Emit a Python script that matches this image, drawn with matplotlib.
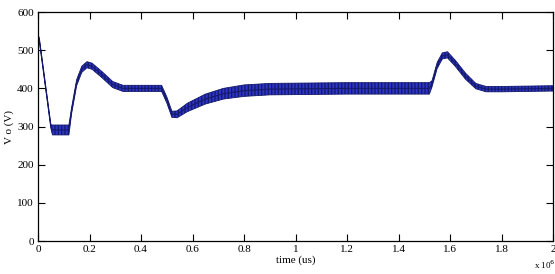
import matplotlib
matplotlib.use('Agg')
import matplotlib.pyplot as plt

# envelope of the output voltage (time in us, volts)
t_us = [0.0, 0.005, 0.05, 0.056, 0.12, 0.13, 0.15, 0.17, 0.19, 0.21, 0.25, 0.29, 0.33,
        0.48, 0.50, 0.52, 0.54, 0.58, 0.65, 0.72, 0.8, 0.9, 1.2,
        1.52, 1.53, 1.55, 1.57, 1.59, 1.62, 1.66, 1.70, 1.74, 1.8, 2.0]
v_mid = [540, 528, 300, 291, 291, 340, 415, 450, 462, 458, 435, 410, 400,
         400, 370, 332, 332, 350, 372, 386, 394, 398, 400,
         400, 412, 460, 485, 488, 466, 432, 406, 398, 398, 400]
v_half = [1, 4, 5, 13, 13, 8, 8, 8, 8, 8, 8, 8, 8,
          8, 8, 8, 9, 11, 13, 14, 15, 15, 15,
          15, 8, 8, 8, 8, 8, 8, 7, 7, 7, 7]

x_ticks = [0, 0.2, 0.4, 0.6, 0.8, 1, 1.2, 1.4, 1.6, 1.8, 2]
x_ticklabels = ['0', '0.2', '0.4', '0.6', '0.8', '1', '1.2', '1.4', '1.6', '1.8', '2']
y_ticks = [0, 100, 200, 300, 400, 500, 600]

plt.rcParams['font.family'] = ['Liberation Serif', 'DejaVu Serif']

fig = plt.figure(figsize=(5.55, 2.74), dpi=100)
ax = fig.add_axes([0.0685, 0.1204, 0.928, 0.8356])

lo = [m - h for m, h in zip(v_mid, v_half)]
hi = [m + h for m, h in zip(v_mid, v_half)]
ax.fill_between(t_us, lo, hi, facecolor='#2f35c8', edgecolor='#141a6a',
                hatch='|||||', linewidth=0.6)
ax.plot(t_us, v_mid, color='#141a6a', linewidth=0.8)

ax.set_xlim(0, 2)
ax.set_ylim(0, 600)
ax.set_xticks(x_ticks)
ax.set_xticklabels(x_ticklabels)
ax.set_yticks(y_ticks)
ax.tick_params(direction='in', top=True, right=True, length=5, width=0.8,
               labelsize=8, pad=3)
for s in ax.spines.values():
    s.set_linewidth(0.9)

ax.set_xlabel('time (us)', fontsize=8, labelpad=1)
ax.set_ylabel('V o (V)', fontsize=8, labelpad=2)
fig.text(0.962, 0.02, r'x 10$^{6}$', fontsize=6.5)

fig.savefig('out.png', dpi=100)
